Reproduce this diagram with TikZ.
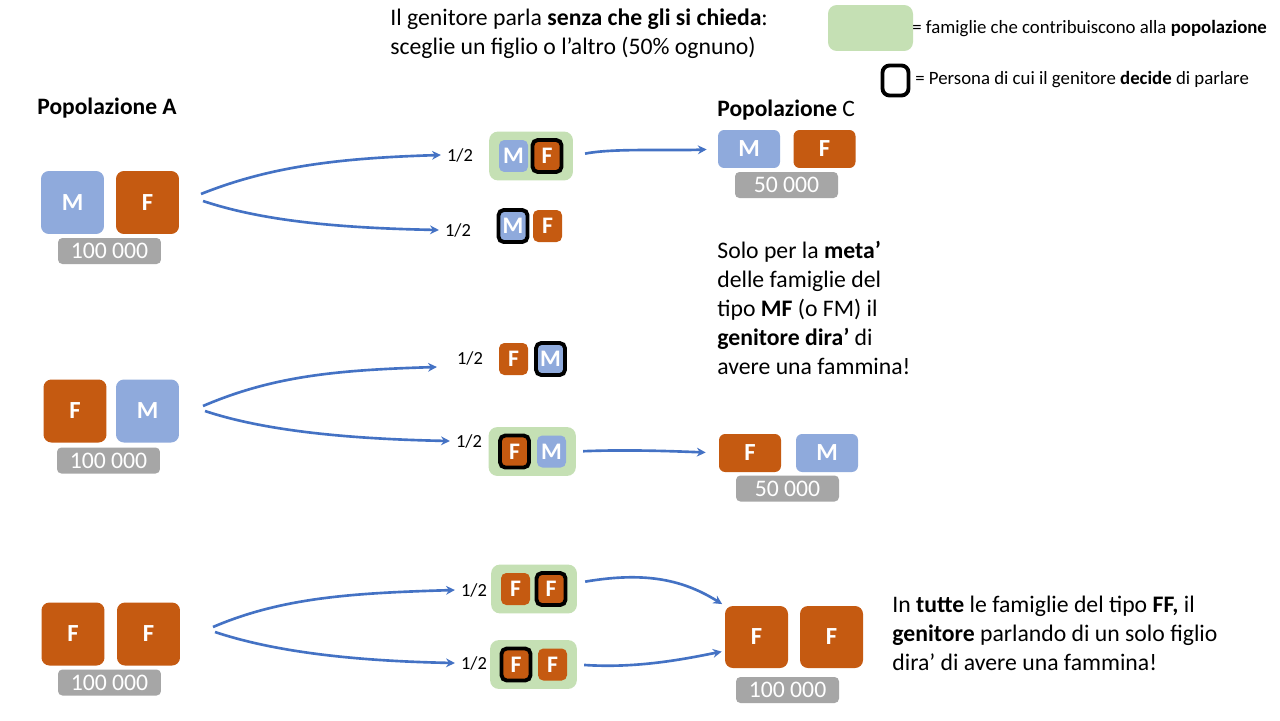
\documentclass[tikz,border=0pt]{standalone}
\usepackage{fontspec}
\setmainfont{Carlito}
\usetikzlibrary{arrows.meta, calc, fit, backgrounds}
\definecolor{cmale}{HTML}{8FAADC}
\definecolor{cfem}{HTML}{C55A11}
\definecolor{cfam}{HTML}{C5E0B4}
\definecolor{cnum}{HTML}{A6A6A6}
\definecolor{carrow}{HTML}{4472C4}
\tikzset{
  kid/.style={fill=#1, rounded corners=4.5pt, minimum size=1.26cm, inner sep=0pt, text=white, font=\fontsize{14}{16}\selectfont\bfseries},
  kidc/.style={fill=#1, rounded corners=3.5pt, minimum width=1.24cm, minimum height=0.76cm, inner sep=0pt, text=white, font=\fontsize{14}{16}\selectfont\bfseries},
  kidsm/.style={fill=#1, rounded corners=3pt, minimum width=0.58cm, minimum height=0.64cm, inner sep=0pt, text=white, font=\fontsize{13.5}{16}\selectfont\bfseries},
  chosen/.style={draw=black, line width=2.2pt},
  numbox/.style={fill=cnum, rounded corners=2.5pt, minimum width=2.06cm, minimum height=0.52cm, inner sep=0pt, text=white, font=\fontsize{13.5}{16}\selectfont},
  famzone/.style={fill=cfam, rounded corners=5pt, inner xsep=0.19cm, inner ysep=0.13cm},
  arrow/.style={-{Stealth[length=5pt, width=5pt]}, draw=carrow, line width=1.5pt},
  prob/.style={font=\fontsize{10.5}{12}\selectfont},
  legend/.style={font=\fontsize{10.7}{13}\selectfont, inner sep=0pt},
  head/.style={font=\fontsize{13.4}{16}\selectfont, inner sep=0pt},
  txt/.style={font=\fontsize{13.5}{16.5}\selectfont, align=left, inner sep=0pt, anchor=north west},
}

\begin{document}
\begin{tikzpicture}[x=0.02cm, y=-0.02cm]
  \useasboundingbox (0,0) rectangle (1280,720);

  % top text and legend
  \node[txt] (intro) at (390,9) {Il genitore parla \textbf{senza che gli si chieda}:\\sceglie un figlio o l’altro (50\% ognuno)};
  \node[famzone, minimum width=1.7cm, minimum height=0.92cm, inner sep=0pt] (lg) at (870.5,28) {};
  \node[legend, anchor=west] (lgt) at (912,29) {= famiglie che contribuiscono alla \textbf{popolazione}};
  \node[chosen, rounded corners=4pt, minimum width=0.52cm, minimum height=0.6cm] (lb) at (895.5,80.5) {};
  \node[legend, anchor=west] (lbt) at (915,80) {= Persona di cui il genitore \textbf{decide} di parlare};

  \node[head, anchor=west] (popa) at (37,108) {\textbf{Popolazione A}};
  \node[head, anchor=west] (popc) at (717,110) {\textbf{Popolazione} C};

  % population A
  \node[kid=cmale] (a1m) at (72.5,202.5) {M};
  \node[kid=cfem] (a1f) at (147.5,202.5) {F};
  \node[numbox] (n1) at (109.5,251) {100 000};
  \node[kid=cfem] (a2f) at (75,411) {F};
  \node[kid=cmale] (a2m) at (147.5,411) {M};
  \node[numbox] (n2) at (108.5,460.5) {100 000};
  \node[kid=cfem] (a3f) at (73,634) {F};
  \node[kid=cfem] (a3g) at (148.5,634) {F};
  \node[numbox] (n3) at (109.5,682.5) {100 000};

  % the parent picks one child
  \node[prob] (h11) at (460,155) {1/2};
  \node[prob] (h12) at (458,230) {1/2};
  \node[prob] (h21) at (470,358) {1/2};
  \node[prob] (h22) at (469,441) {1/2};
  \node[prob] (h31) at (474,590) {1/2};
  \node[prob] (h32) at (474,663) {1/2};

  \node[kidsm=cmale] (p11m) at (513.5,156) {M};
  \node[kidsm=cfem, chosen] (p11f) at (547,156) {F};
  \node[kidsm=cmale, chosen] (p12m) at (513,226) {M};
  \node[kidsm=cfem] (p12f) at (547.5,226) {F};
  \node[kidsm=cfem] (p21f) at (513.5,359) {F};
  \node[kidsm=cmale, chosen] (p21m) at (550.5,359) {M};
  \node[kidsm=cfem, chosen] (p22f) at (514.5,451.5) {F};
  \node[kidsm=cmale] (p22m) at (551.5,451.5) {M};
  \node[kidsm=cfem] (p31f) at (515.5,589) {F};
  \node[kidsm=cfem, chosen] (p31g) at (551,589) {F};
  \node[kidsm=cfem, chosen] (p32f) at (516,664.5) {F};
  \node[kidsm=cfem] (p32g) at (552.5,664.5) {F};

  \begin{scope}[on background layer]
    \fill[white] (0,0) rectangle (1280,720);
    \node[famzone, fit=(p11m)(p11f)] (g11) {};
    \node[famzone, fit=(p22f)(p22m)] (g22) {};
    \node[famzone, fit=(p31f)(p31g)] (g31) {};
    \node[famzone, fit=(p32f)(p32g)] (g32) {};
  \end{scope}

  % population C
  \node[kidc=cmale] (c1m) at (749,149) {M};
  \node[kidc=cfem] (c1f) at (824.5,149) {F};
  \node[numbox] (n4) at (786.5,185) {50 000};
  \node[kidc=cfem] (c2f) at (750,453) {F};
  \node[kidc=cmale] (c2m) at (827,453) {M};
  \node[numbox] (n5) at (787.5,488.5) {50 000};
  \node[kid=cfem, minimum height=1.24cm] (c3f) at (756.5,637) {F};
  \node[kid=cfem, minimum height=1.24cm] (c3g) at (831.5,637) {F};
  \node[numbox] (n6) at (787.5,690) {100 000};

  \node[txt] (note1) at (717,241) {Solo per la \textbf{meta’}\\delle famiglie del\\tipo \textbf{MF} (o FM) il\\\textbf{genitore dira’} di\\avere una fammina!};
  \node[txt] (note2) at (892,596) {In \textbf{tutte} le famiglie del tipo \textbf{FF,} il\\\textbf{genitore} parlando di un solo figlio\\dira’ di avere una fammina!};

  % connectors
  \coordinate (s11) at (201,194);
  \coordinate (s12) at (203,201);
  \coordinate (s21) at (203,406);
  \coordinate (s22) at (205,411);
  \coordinate (s31) at (213,627);
  \coordinate (s32) at (215,632);
  \draw[arrow] (s11) .. controls +(70,-28) and +(-100,3) .. (h11.west);
  \draw[arrow] (s12) .. controls +(60,20) and +(-100,-2) .. (h12.west);
  \draw[arrow] (s21) .. controls +(70,-30) and +(-100,3) .. ($(h21.west)+(-14,9)$);
  \draw[arrow] (s22) .. controls +(60,20) and +(-100,-2) .. (h22.west);
  \draw[arrow] (s31) .. controls +(70,-30) and +(-100,3) .. (h31.west);
  \draw[arrow] (s32) .. controls +(60,20) and +(-100,-2) .. (h32.west);

  \draw[arrow, shorten <=0.24cm, shorten >=0.22cm] (g11.east) .. controls +(40,-8) and +(-50,2) .. (c1m.west);
  \draw[arrow, shorten <=0.14cm, shorten >=0.26cm] (g22.east) .. controls +(50,-2) and +(-50,-2) .. (c2f.west);
  \draw[arrow, shorten <=0.16cm, shorten >=0.06cm] ($(g31.east)+(0,-6)$) .. controls +(70,-12) and +(-40,-25) .. (c3f.north west);
  \draw[arrow, shorten <=0.14cm, shorten >=0.06cm] (g32.east) .. controls +(60,4) and +(-40,8) .. ($(c3f.west)+(0,14)$);
\end{tikzpicture}
\end{document}
